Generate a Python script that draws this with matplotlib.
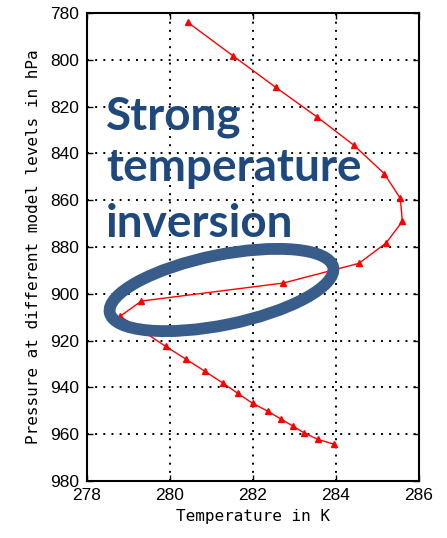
import matplotlib
matplotlib.use("Agg")
import matplotlib.pyplot as plt
from matplotlib.patches import Ellipse

# Data
temperature_K = [280.43, 281.51, 282.55, 283.55, 284.43, 285.16, 285.55, 285.60,
                 285.20, 284.55, 282.73, 279.31, 278.80, 279.90, 280.39, 280.84,
                 281.28, 281.63, 281.99, 282.36, 282.67, 282.96, 283.23, 283.56,
                 283.94]
pressure_hPa = [784.0, 798.2, 811.8, 824.5, 836.5, 848.6, 859.2, 869.1,
                878.4, 887.0, 895.4, 903.1, 909.6, 922.5, 928.0, 933.1,
                938.2, 942.5, 946.8, 950.2, 953.5, 956.5, 959.4, 962.2,
                964.2]
x_ticks = [278, 280, 282, 284, 286]
y_ticks = [780, 800, 820, 840, 860, 880, 900, 920, 940, 960, 980]
annotation_lines = ["Strong", "temperature", "inversion"]

W, H = 447, 538
fig = plt.figure(figsize=(W / 100, H / 100), dpi=100)
ax = fig.add_axes([87 / W, 1 - 481 / H, (419 - 87) / W, (481 - 13) / H])

ax.plot(temperature_K, pressure_hPa, color="red", lw=1.0, marker="^",
        ms=4.5, mfc="red", mec="red", zorder=3)

ax.set_xlim(278, 286)
ax.set_ylim(980, 780)
ax.set_xticks(x_ticks)
ax.set_yticks(y_ticks)
ax.set_xticklabels([str(t) for t in x_ticks])
ax.set_yticklabels([str(t) for t in y_ticks])

ax.grid(True, color="black", linestyle=(0, (1, 3.2)), linewidth=1.4)
ax.tick_params(direction="in", length=4, width=1, top=True, right=True,
               labelsize=12.5, colors="black")
ax.tick_params(axis="y", pad=6)
ax.tick_params(axis="x", pad=5)
for lab in ax.get_xticklabels() + ax.get_yticklabels():
    lab.set_family("Liberation Sans")
for s in ax.spines.values():
    s.set_linewidth(1.5)
    s.set_color("black")

ax.set_xlabel("Temperature in K", family="DejaVu Sans Mono", fontsize=11.5,
              labelpad=4)
ax.set_ylabel("Pressure at different model levels in hPa",
              family="DejaVu Sans Mono", fontsize=11.5, labelpad=6)

# Annotation text (figure pixel coordinates, baselines)
baselines = [130, 181, 237]
for txt, yb in zip(annotation_lines, baselines):
    fig.text(106 / W, 1 - yb / H, txt, family="Lato", weight="bold",
             fontsize=33, color="#1F497D", ha="left", va="baseline", zorder=5)

# Ellipse around the inversion
ell = Ellipse((2.215, (538 - 290) / 100), width=2.28, height=0.70, angle=11.5,
              transform=fig.dpi_scale_trans, fill=False, edgecolor="#385D8A",
              linewidth=8.5, zorder=6)
fig.patches.append(ell)

fig.savefig("out.png", dpi=100)
